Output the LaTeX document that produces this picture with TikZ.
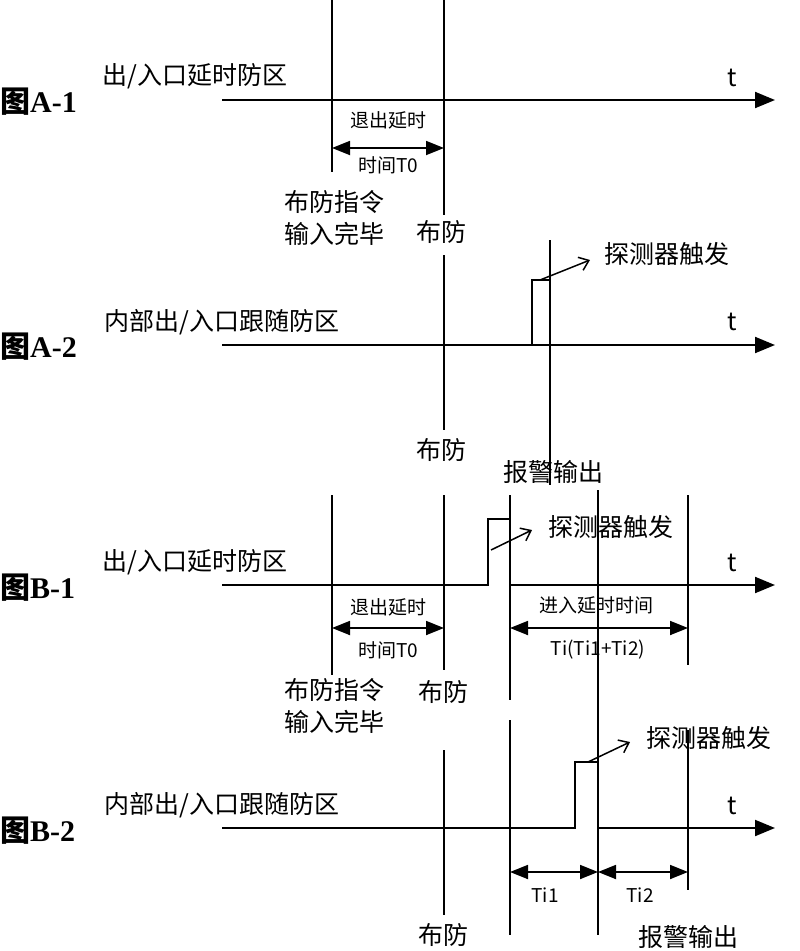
\documentclass[tikz,border=0pt]{standalone}
\usepackage{fontspec}
\setmainfont{Liberation Serif}
\newfontfamily\cjk{Noto Sans CJK SC}
\usetikzlibrary{arrows.meta}
\tikzset{
  sig/.style={line width=2pt},
  axis/.style={line width=2pt, -{Triangle[length=20pt,width=16pt]}},
  mark line/.style={line width=1.8pt},
  span/.style={line width=1.8pt, {Triangle[length=18pt,width=14pt]}-{Triangle[length=18pt,width=14pt]}},
  big/.style={font=\cjk\fontsize{25}{30}\selectfont, inner sep=0pt},
  small/.style={font=\cjk\fontsize{19}{22}\selectfont, inner sep=0pt},
  lbl/.style={font=\bfseries\fontsize{30}{34}\selectfont, inner sep=0pt},
  trig/.style={line width=1.5pt, -{Straight Barb[length=9pt,width=14pt]}}
}
\begin{document}
\begin{tikzpicture}[x=1pt,y=-1pt]
  \useasboundingbox (0,0) rectangle (800,951);

  % A-1
  \node[lbl, anchor=west] (fa1) at (0,102) {{\cjk 图}A-1};
  \node[big, anchor=west] (za1) at (102,76) {出/入口延时防区};
  \node[big] (ta1) at (732,78) {t};
  \draw[axis] (222,100) -- (775,100);
  \draw[mark line] (332,0) -- (332,172);
  \draw[mark line] (444,0) -- (444,215);
  \draw[span] (332,148) -- (444,148);
  \node[small] (qa1) at (388,120) {退出延时};
  \node[small] (ga1) at (388,165) {时间T0};
  \node[big, align=left] (ca1) at (334,218) {布防指令\\[2pt]输入完毕};
  \node[big] (ba1) at (441,232) {布防};

  % A-2
  \node[lbl, anchor=west] (fa2) at (0,347) {{\cjk 图}A-2};
  \node[big, anchor=west] (za2) at (104,322) {内部出/入口跟随防区};
  \node[big] (ta2) at (732,322) {t};
  \draw[axis] (222,345) -- (775,345);
  \draw[sig] (222,345) -- (532,345) -- (532,280) -- (550,280);
  \draw[mark line] (444,255) -- (444,430);
  \draw[mark line] (550,240) -- (550,485);
  \draw[trig] (540,280) -- (590,260);
  \node[big, anchor=west] (da2) at (604,254) {探测器触发};
  \node[big] (ba2) at (441,450) {布防};
  \node[big] (ja2) at (553,472) {报警输出};

  % B-1
  \node[lbl, anchor=west] (fb1) at (0,588) {{\cjk 图}B-1};
  \node[big, anchor=west] (zb1) at (102,562) {出/入口延时防区};
  \node[big] (tb1) at (732,563) {t};
  \draw[sig] (222,585) -- (488,585) -- (488,519) -- (510,519);
  \draw[axis] (510,585) -- (775,585);
  \draw[mark line] (332,495) -- (332,675);
  \draw[mark line] (444,495) -- (444,670);
  \draw[mark line] (510,495) -- (510,700);
  \draw[mark line] (598,490) -- (598,935);
  \draw[mark line] (688,495) -- (688,665);
  \draw[trig] (491,550) -- (532,530);
  \node[big, anchor=west] (db1) at (548,527) {探测器触发};
  \draw[span] (332,628) -- (444,628);
  \node[small] (qb1) at (388,607) {退出延时};
  \node[small] (gb1) at (388,650) {时间T0};
  \draw[span] (510,628) -- (688,628);
  \node[small] (jb1) at (596,605) {进入延时时间};
  \node[small] (tib1) at (598,650) {Ti(Ti1+Ti2)};
  \node[big, align=left] (cb1) at (334,706) {布防指令\\[2pt]输入完毕};
  \node[big] (bb1) at (443,692) {布防};

  % B-2
  \node[lbl, anchor=west] (fb2) at (0,831) {{\cjk 图}B-2};
  \node[big, anchor=west] (zb2) at (104,805) {内部出/入口跟随防区};
  \node[big] (tb2) at (732,806) {t};
  \draw[sig] (222,828) -- (575,828) -- (575,762) -- (598,762);
  \draw[axis] (598,828) -- (775,828);
  \draw[mark line] (444,750) -- (444,915);
  \draw[mark line] (510,720) -- (510,935);
  \draw[mark line] (688,730) -- (688,890);
  \draw[trig] (588,762) -- (630,742);
  \node[big, anchor=west] (db2) at (646,738) {探测器触发};
  \draw[span] (510,872) -- (598,872);
  \draw[span] (598,872) -- (688,872);
  \node[small] (ti1) at (545,895) {Ti1};
  \node[small] (ti2) at (640,895) {Ti2};
  \node[big] (bb2) at (443,935) {布防};
  \node[big] (jb2) at (688,937) {报警输出};
\end{tikzpicture}
\end{document}
